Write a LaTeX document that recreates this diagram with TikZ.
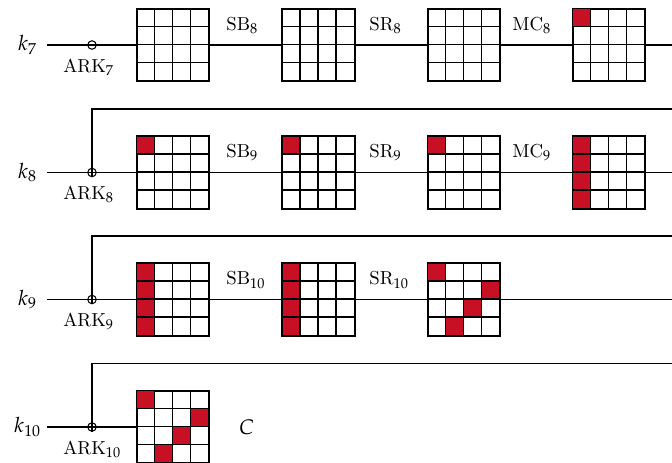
\documentclass[tikz,border=0pt]{standalone}
\usepackage{mathpazo}
\usepackage{xcolor}
\usepackage{tikz}
\definecolor{keyred}{RGB}{200,16,36}

\begin{document}
\begin{tikzpicture}[
    line width=0.6pt,
    every node/.style={font=\fontsize{10.7}{13}\selectfont},
    keylab/.style={font=\large},
    state/.style={draw,fill=white,rectangle,minimum size=1.44cm,inner sep=0pt},
    xorc/.style={draw,circle,minimum size=0.17cm,inner sep=0pt}
  ]
    \useasboundingbox (0,0) rectangle (13.44,-9.26);

    % row k7
    \node[keylab] (k7) at (0.55,-0.9) {$k_7$};
    \coordinate (s7) at (0.94,-0.9);
    \coordinate (e7) at (13.44,-0.9);
    \node[xorc] (x7) at (1.84,-0.9) {};
    \node[state] (g71) at (3.46,-0.9) {};
    \node[state] (g72) at (6.37,-0.9) {};
    \node[state] (g73) at (9.28,-0.9) {};
    \node[state] (g74) at (12.18,-0.9) {};
    \node[anchor=base west] (ark7) at (1.14,-1.44) {ARK$_7$};
    \node[anchor=base west] (sb8) at (4.40,-0.6) {SB$_8$};
    \node[anchor=base west] (sr8) at (7.26,-0.6) {SR$_8$};
    \node[anchor=base west] (mc8) at (10.12,-0.6) {MC$_8$};

    % row k8
    \node[keylab] (k8) at (0.55,-3.45) {$k_8$};
    \coordinate (s8) at (0.94,-3.45);
    \coordinate (e8) at (13.44,-3.45);
    \coordinate (f8) at (13.44,-2.18);
    \node[xorc] (x8) at (1.84,-3.45) {};
    \node[state] (g81) at (3.46,-3.45) {};
    \node[state] (g82) at (6.37,-3.45) {};
    \node[state] (g83) at (9.28,-3.45) {};
    \node[state] (g84) at (12.18,-3.45) {};
    \node[anchor=base west] (ark8) at (1.14,-3.99) {ARK$_8$};
    \node[anchor=base west] (sb9) at (4.40,-3.15) {SB$_9$};
    \node[anchor=base west] (sr9) at (7.26,-3.15) {SR$_9$};
    \node[anchor=base west] (mc9) at (10.12,-3.15) {MC$_9$};

    % row k9
    \node[keylab] (k9) at (0.55,-5.99) {$k_9$};
    \coordinate (s9) at (0.94,-5.99);
    \coordinate (e9) at (13.44,-5.99);
    \coordinate (f9) at (13.44,-4.72);
    \node[xorc] (x9) at (1.84,-5.99) {};
    \node[state] (g91) at (3.46,-5.99) {};
    \node[state] (g92) at (6.37,-5.99) {};
    \node[state] (g93) at (9.28,-5.99) {};
    \node[anchor=base west] (ark9) at (1.14,-6.53) {ARK$_9$};
    \node[anchor=base west] (sb10) at (4.40,-5.69) {SB$_{10}$};
    \node[anchor=base west] (sr10) at (7.26,-5.69) {SR$_{10}$};

    % row k10
    \node[keylab] (k10) at (0.55,-8.54) {$k_{10}$};
    \coordinate (s10) at (0.94,-8.54);
    \coordinate (f10) at (13.44,-7.27);
    \node[xorc] (x10) at (1.84,-8.54) {};
    \node[state] (g101) at (3.46,-8.54) {};
    \node[anchor=base west] (ark10) at (1.14,-9.08) {ARK$_{10}$};
    \node[keylab] (ct) at (4.93,-8.54) {$C$};

    % wires
    \draw (s7) -- (x7.center) -- (g71) -- (g72) -- (g73) -- (g74) -- (e7);
    \draw (s8) -- (x8.center) -- (g81) -- (g82) -- (g83) -- (g84) -- (e8);
    \draw (s9) -- (x9.center) -- (g91) -- (g92) -- (g93) -- (e9);
    \draw (s10) -- (x10.center) -- (g101);
    \draw (f8) -| (x8.south);
    \draw (f9) -| (x9.south);
    \draw (f10) -| (x10.south);

    % active bytes
    \foreach \g/\c/\r in {g74/0/0, g81/0/0, g82/0/0, g83/0/0,
        g84/0/0, g84/0/1, g84/0/2, g84/0/3,
        g91/0/0, g91/0/1, g91/0/2, g91/0/3,
        g92/0/0, g92/0/1, g92/0/2, g92/0/3,
        g93/0/0, g93/3/1, g93/2/2, g93/1/3,
        g101/0/0, g101/3/1, g101/2/2, g101/1/3}
      \fill[keyred] ([shift={(\c*0.36,-\r*0.36)}]\g.north west) rectangle +(0.36,-0.36);

    % cell lines
    \foreach \g in {g71,g72,g73,g74,g81,g82,g83,g84,g91,g92,g93,g101}{
      \foreach \i in {1,2,3}{
        \draw ([xshift=\i*0.36cm]\g.north west) -- ([xshift=\i*0.36cm]\g.south west);
        \draw ([yshift=-\i*0.36cm]\g.north west) -- ([yshift=-\i*0.36cm]\g.north east);
      }
      \draw (\g.north west) rectangle (\g.south east);
    }
  \end{tikzpicture}
\end{document}
